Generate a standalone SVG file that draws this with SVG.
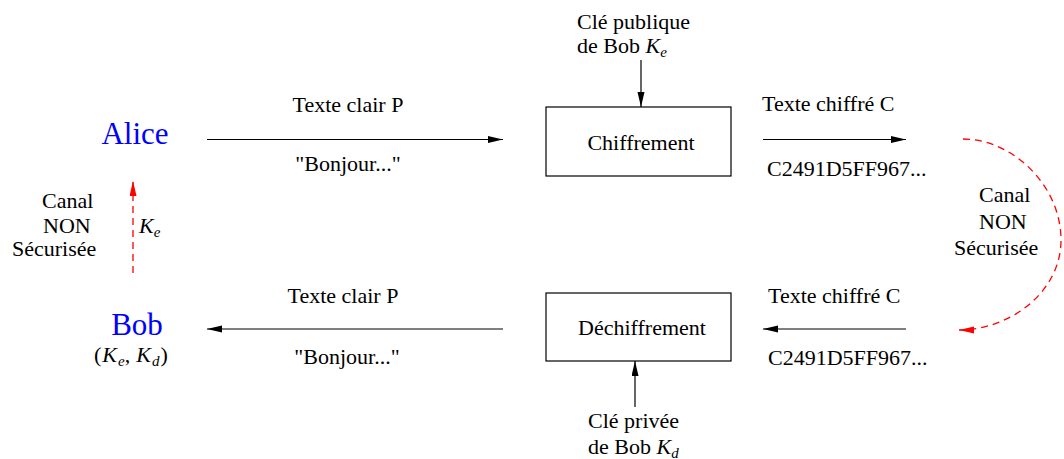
<svg xmlns="http://www.w3.org/2000/svg" width="1064" height="459" viewBox="0 0 1064 459">
  <style>
    text { font-family: "Liberation Serif", "DejaVu Serif", "Noto Serif", serif; font-size: 22px; fill: #000; }
    .mid { text-anchor: middle; }
    .name { font-size: 31px; fill: #0000ff; }
    .math { font-style: italic; }
    .sub { font-style: italic; font-size: 15px; }
    .box { fill: #fff; stroke: #000; stroke-width: 1.2; }
    .flow { stroke: #000; stroke-width: 1.2; fill: none; marker-end: url(#head); }
    .open { stroke: #ff0000; stroke-width: 1.3; fill: none; stroke-dasharray: 7 5; marker-end: url(#headRed); }
  </style>
  <defs>
    <marker id="head" markerUnits="userSpaceOnUse" markerWidth="16" markerHeight="8" refX="15" refY="3.5" orient="auto">
      <path d="M0,0 L15,3.5 L0,7 z" fill="#000"/>
    </marker>
    <marker id="headRed" markerUnits="userSpaceOnUse" markerWidth="16" markerHeight="8" refX="15" refY="3.5" orient="auto">
      <path d="M0,0 L15,3.5 L0,7 z" fill="#ff0000"/>
    </marker>
  </defs>

  <rect width="1064" height="459" fill="#fff"/>

  <!-- connectors -->
  <g id="connectors">
    <line class="flow" x1="207" y1="139.5" x2="503" y2="139.5"/>
    <line class="flow" x1="641" y1="60" x2="641" y2="107"/>
    <line class="flow" x1="763" y1="139.5" x2="906" y2="139.5"/>
    <path class="open" d="M963,139 C1012,139 1061,185 1061,240 C1061,292 1010,330 959,330"/>
    <line class="flow" x1="906" y1="329" x2="763" y2="329"/>
    <line class="flow" x1="635" y1="407" x2="635" y2="361"/>
    <line class="flow" x1="503" y1="329" x2="207" y2="329"/>
    <line class="open" x1="133" y1="273" x2="133" y2="181"/>
  </g>

  <!-- connector labels -->
  <g id="labels">
    <text class="mid" x="348" y="112">Texte clair P</text>
    <text class="mid" x="348" y="171">"Bonjour..."</text>
    <text x="577" y="29">Clé publique</text>
    <text x="577" y="53">de Bob <tspan class="math">K</tspan><tspan class="sub" dy="4">e</tspan></text>
    <text x="762" y="111">Texte chiffré C</text>
    <text x="767" y="176">C2491D5FF967...</text>
    <text x="979" y="202">Canal</text>
    <text x="979" y="229">NON</text>
    <text x="954" y="255">Sécurisée</text>
    <text x="768" y="303">Texte chiffré C</text>
    <text x="768" y="365">C2491D5FF967...</text>
    <text x="588" y="428">Clé privée</text>
    <text x="588" y="454">de Bob <tspan class="math">K</tspan><tspan class="sub" dy="4">d</tspan></text>
    <text class="mid" x="343" y="303">Texte clair P</text>
    <text class="mid" x="347" y="364">"Bonjour..."</text>
    <text x="42" y="208">Canal</text>
    <text x="43" y="233">NON</text>
    <text x="12" y="256">Sécurisée</text>
    <text x="139" y="233"><tspan class="math">K</tspan><tspan class="sub" dy="4">e</tspan></text>
  </g>

  <!-- nodes -->
  <g id="alice">
    <text class="name mid" x="135" y="144">Alice</text>
  </g>
  <g id="bob">
    <text class="name mid" x="137" y="335">Bob</text>
    <text x="94" y="362">(<tspan class="math" dx="1">K</tspan><tspan class="sub" dy="4" dx="1">e</tspan><tspan dy="-4">,</tspan><tspan class="math" dx="6">K</tspan><tspan class="sub" dy="4" dx="1">d</tspan><tspan dy="-4" dx="1">)</tspan></text>
  </g>
  <g id="chiffrement">
    <rect class="box" x="546" y="107" width="185" height="69"/>
    <text class="mid" x="641" y="150">Chiffrement</text>
  </g>
  <g id="dechiffrement">
    <rect class="box" x="546" y="293" width="185" height="68"/>
    <text class="mid" x="642" y="335">Déchiffrement</text>
  </g>
</svg>
